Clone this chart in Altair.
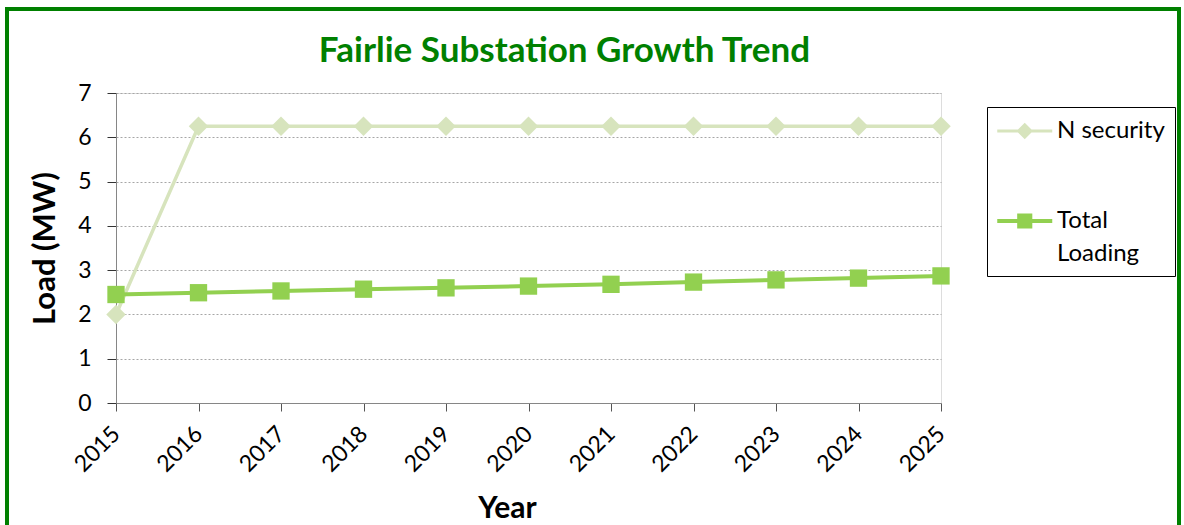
import altair as alt
import pandas as pd

years = [2015, 2016, 2017, 2018, 2019, 2020, 2021, 2022, 2023, 2024, 2025]
n_security = [2.0, 6.25, 6.25, 6.25, 6.25, 6.25, 6.25, 6.25, 6.25, 6.25, 6.25]
total_loading = [2.45, 2.49, 2.53, 2.57, 2.60, 2.64, 2.68, 2.73, 2.78, 2.82, 2.87]
series_names = ["N security", "Total Loading"]
series_colors = ["#d7e4bd", "#92d050"]
y_ticks = [0, 1, 2, 3, 4, 5, 6, 7]

rows = []
for y, a, b in zip(years, n_security, total_loading):
    rows.append({"Year": y, "Series": series_names[0], "Load": a})
    rows.append({"Year": y, "Series": series_names[1], "Load": b})
df = pd.DataFrame(rows)

FONT = "Lato"

legend = alt.Legend(
    title=None,
    orient="none",
    legendX=871,
    legendY=14,
    padding=10,
    strokeColor="#000000",
    fillColor="#ffffff",
    labelFont=FONT,
    labelFontSize=24,
    labelColor="#000000",
    labelExpr="datum.label == 'Total Loading' ? ['Total', 'Loading'] : datum.label",
    labelOffset=32,
    symbolSize=756,
    symbolOpacity=1,
    symbolStrokeWidth=0,
    rowPadding=64,
    labelLimit=300,
)

color_scale = alt.Scale(domain=series_names, range=series_colors)
shape_scale = alt.Scale(
    domain=series_names,
    range=[
        "M-1,-0.11H3V0.11H-1Z M1,-0.6L1.6,0L1,0.6L0.4,0Z",
        "M-1,-0.14H3V0.14H-1Z M0.45,-0.55H1.55V0.55H0.45Z",
    ],
)

x_enc = alt.X(
    "Year:Q",
    scale=alt.Scale(domain=[2015, 2025], nice=False, zero=False),
    axis=alt.Axis(
        values=years,
        format="d",
        labelAngle=-45,
        labelAlign="right",
        labelBaseline="middle",
        labelFont=FONT,
        labelFontSize=23,
        labelColor="#000000",
        labelPadding=19,
        tickSize=8,
        tickColor="#555555",
        domainColor="#868686",
        grid=False,
        title="Year",
        titleFont=FONT,
        titleFontSize=30,
        titleFontWeight="bold",
        titleColor="#000000",
        titlePadding=17,
        titleX=391,
        titleAlign="center",
    ),
)
y_enc = alt.Y(
    "Load:Q",
    scale=alt.Scale(domain=[0, 7], nice=False),
    axis=alt.Axis(
        values=y_ticks,
        labelFont=FONT,
        labelFontSize=23,
        labelColor="#000000",
        labelPadding=16,
        tickSize=9,
        tickColor="#333333",
        domainColor="#868686",
        grid=True,
        gridColor="#a6a6a6",
        gridDash=[2, 2],
        gridWidth=1,
        title="Load (MW)",
        titleFont=FONT,
        titleFontSize=31,
        titleFontWeight="bold",
        titleColor="#000000",
        titlePadding=16,
    ),
)

base = alt.Chart(df)

border = alt.Chart(alt.Data(values=[{"k": 1}])).mark_rect(
    fillOpacity=0, stroke="#008000", strokeWidth=4
).encode(
    x=alt.value(-109), x2=alt.value(1063), y=alt.value(-84), y2=alt.value(600)
)

layers = [border]
for name, shape, size, sw in [
    ("N security", "diamond", 380, 3.5),
    ("Total Loading", "square", 300, 4),
]:
    sub = base.transform_filter(alt.datum.Series == name)
    layers.append(
        sub.mark_line(strokeWidth=sw).encode(
            x=x_enc, y=y_enc,
            color=alt.Color("Series:N", scale=color_scale, legend=legend),
        )
    )
    layers.append(
        sub.mark_point(filled=True, shape=shape, size=size, opacity=1).encode(
            x=x_enc, y=y_enc,
            color=alt.Color("Series:N", scale=color_scale, legend=legend),
        )
    )

legend_layer = base.mark_point(filled=True, opacity=0).encode(
    x=x_enc, y=y_enc,
    color=alt.Color("Series:N", scale=color_scale, legend=legend),
    shape=alt.Shape("Series:N", scale=shape_scale, legend=legend),
)
layers.append(legend_layer)

chart = alt.layer(*layers).properties(
    width=825,
    height=310,
    autosize=alt.AutoSizeParams(type="none"),
    padding={"left": 116, "top": 93, "right": 243, "bottom": 122},
    title=alt.TitleParams(
        "Fairlie Substation Growth Trend",
        font=FONT,
        fontSize=35,
        fontWeight="bold",
        color="#008000",
        anchor="middle",
        frame="group",
        dx=36,
        offset=-62,
    ),
).configure_view(stroke=None).configure(
    background="#ffffff",
    style={"guide-label": {"lineHeight": 33}},
)

chart.save("out.html", embed_options={"renderer": "svg", "actions": False})
